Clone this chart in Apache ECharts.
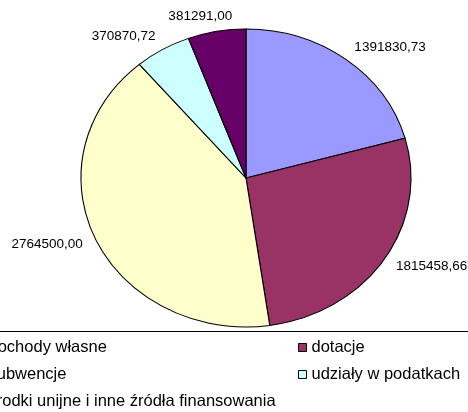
<!DOCTYPE html>
<html>
<head>
<meta charset="utf-8">
<script src="https://cdn.jsdelivr.net/npm/echarts@6/dist/echarts.min.js"></script>
<style>
  html, body { margin: 0; padding: 0; background: #fff; }
  #chart { width: 468px; height: 412px; }
</style>
</head>
<body>
<div id="chart"></div>
<script>
// kategorie i wartosci
var names = ['dochody własne', 'dotacje', 'subwencje', 'udziały w podatkach', 'środki unijne i inne źródła finansowania'];
var values = [1391830.73, 1815458.66, 2764500.00, 370870.72, 381291.00];
var colors = ['#9999FF', '#993366', '#FFFFCC', '#CCFFFF', '#660066'];

var font = "13.5px 'Liberation Sans', Arial, sans-serif";
var total = 0;
for (var i = 0; i < values.length; i++) total += values[i];
var before = [];
var acc = 0;
for (var i = 0; i < values.length; i++) { before[i] = acc; acc += values[i]; }

// elipsa jak w Excelu
var cx = 246, cy = 178, rx = 165, ry = 149;

function fmt(v) {
  return v.toFixed(2).replace('.', ',');
}

function renderSlice(params, api) {
  var idx = params.seriesIndex;
  var v = api.value(0);
  var a0 = -Math.PI / 2 + before[idx] / total * Math.PI * 2;
  var a1 = a0 + v / total * Math.PI * 2;
  var mid = (a0 + a1) / 2;
  var c = Math.cos(mid), s = Math.sin(mid);
  var d = 14;
  var lx = cx + (rx + d) * c;
  var ly = cy + (ry + d) * s;
  var align = c >= 0 ? 'left' : 'right';
  if (Math.abs(c) < 0.3) { align = 'center'; lx -= 14; }
  return {
    type: 'group',
    children: [{
      type: 'sector',
      shape: { cx: cx, cy: cy, r: ry, r0: 0, startAngle: a0, endAngle: a1, clockwise: true },
      originX: cx, originY: cy, scaleX: rx / ry,
      style: { fill: api.visual('color'), stroke: '#000', lineWidth: 1, strokeNoScale: true }
    }, {
      type: 'text',
      x: lx, y: ly - 1,
      style: {
        text: fmt(v), font: font, fill: '#000',
        align: align, verticalAlign: 'middle'
      }
    }]
  };
}

var series = [];
for (var i = 0; i < values.length; i++) {
  series.push({
    type: 'custom',
    name: names[i],
    coordinateSystem: 'none',
    renderItem: renderSlice,
    itemStyle: { color: colors[i] },
    data: [[values[i]]],
    animation: false,
    silent: true
  });
}

var legendBase = {
  orient: 'vertical',
  top: 339,
  height: 200,
  padding: 0,
  itemWidth: 8,
  itemHeight: 8,
  itemGap: 10,
  itemTextGap: 5,
  icon: 'rect',
  selectedMode: false,
  itemStyle: { borderColor: '#000', borderWidth: 1 },
  textStyle: { fontFamily: "'Liberation Sans', Arial, sans-serif", fontSize: 16.5, color: '#000', lineHeight: 16 }
};

var chart = echarts.init(document.getElementById('chart'));
chart.setOption({
  backgroundColor: '#fff',
  animation: false,
  legend: [
    Object.assign({}, legendBase, { left: -25, data: [names[0], names[2], names[4]] }),
    Object.assign({}, legendBase, { left: 298, data: [names[1], names[3]] })
  ],
  graphic: [{
    type: 'rect',
    silent: true,
    shape: { x: -5, y: 331.5, width: 480, height: 100 },
    style: { fill: 'none', stroke: '#000', lineWidth: 1 }
  }],
  series: series
});
</script>
</body>
</html>
